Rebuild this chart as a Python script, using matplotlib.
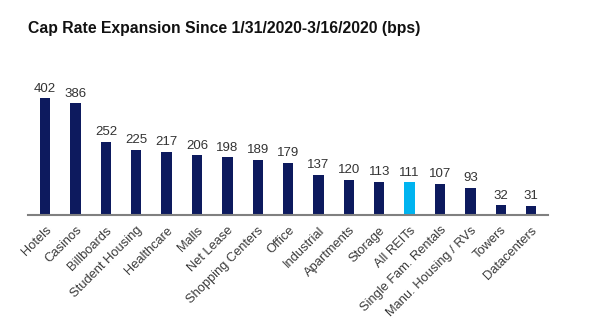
import matplotlib
matplotlib.use("Agg")
import matplotlib.pyplot as plt

categories = ["Hotels", "Casinos", "Billboards", "Student Housing", "Healthcare",
              "Malls", "Net Lease", "Shopping Centers", "Office", "Industrial",
              "Apartments", "Storage", "All REITs", "Single Fam. Rentals",
              "Manu. Housing / RVs", "Towers", "Datacenters"]
values = [402, 386, 252, 225, 217, 206, 198, 189, 179, 137, 120, 113, 111, 107, 93, 32, 31]

navy = "#0d1a5e"
highlight = "#00b4f0"
colors = [highlight if c == "All REITs" else navy for c in categories]

plt.rcParams['font.family'] = ['Liberation Sans', 'DejaVu Sans']

fig = plt.figure(figsize=(5.99, 3.36), dpi=100)
ax = fig.add_axes([0.047, 0.3616, 0.868, 0.46])

x = range(len(categories))
ax.bar(x, values, width=0.34, color=colors)
for xi, v in zip(x, values):
    ax.text(xi, v + 12, str(v), ha='center', va='bottom', fontsize=9.5, color='#333333')

ax.set_xlim(-0.56, len(categories) - 1 + 0.56)
ax.set_ylim(0, 535)
for s in ['top', 'right', 'left']:
    ax.spines[s].set_visible(False)
ax.spines['bottom'].set_color('#808080')
ax.spines['bottom'].set_linewidth(1.5)
ax.set_yticks([])
ax.set_xticks(list(x))
ax.set_xticklabels(categories, rotation=45, ha='right', rotation_mode='anchor',
                   fontsize=9.3, color='#3a3a3a')
ax.tick_params(axis='x', length=0, pad=7)

fig.text(0.047, 0.915, "Cap Rate Expansion Since 1/31/2020-3/16/2020 (bps)",
         fontsize=11.3, fontweight='bold', color='#111111', ha='left', va='center')

fig.savefig("out.png", dpi=100)
